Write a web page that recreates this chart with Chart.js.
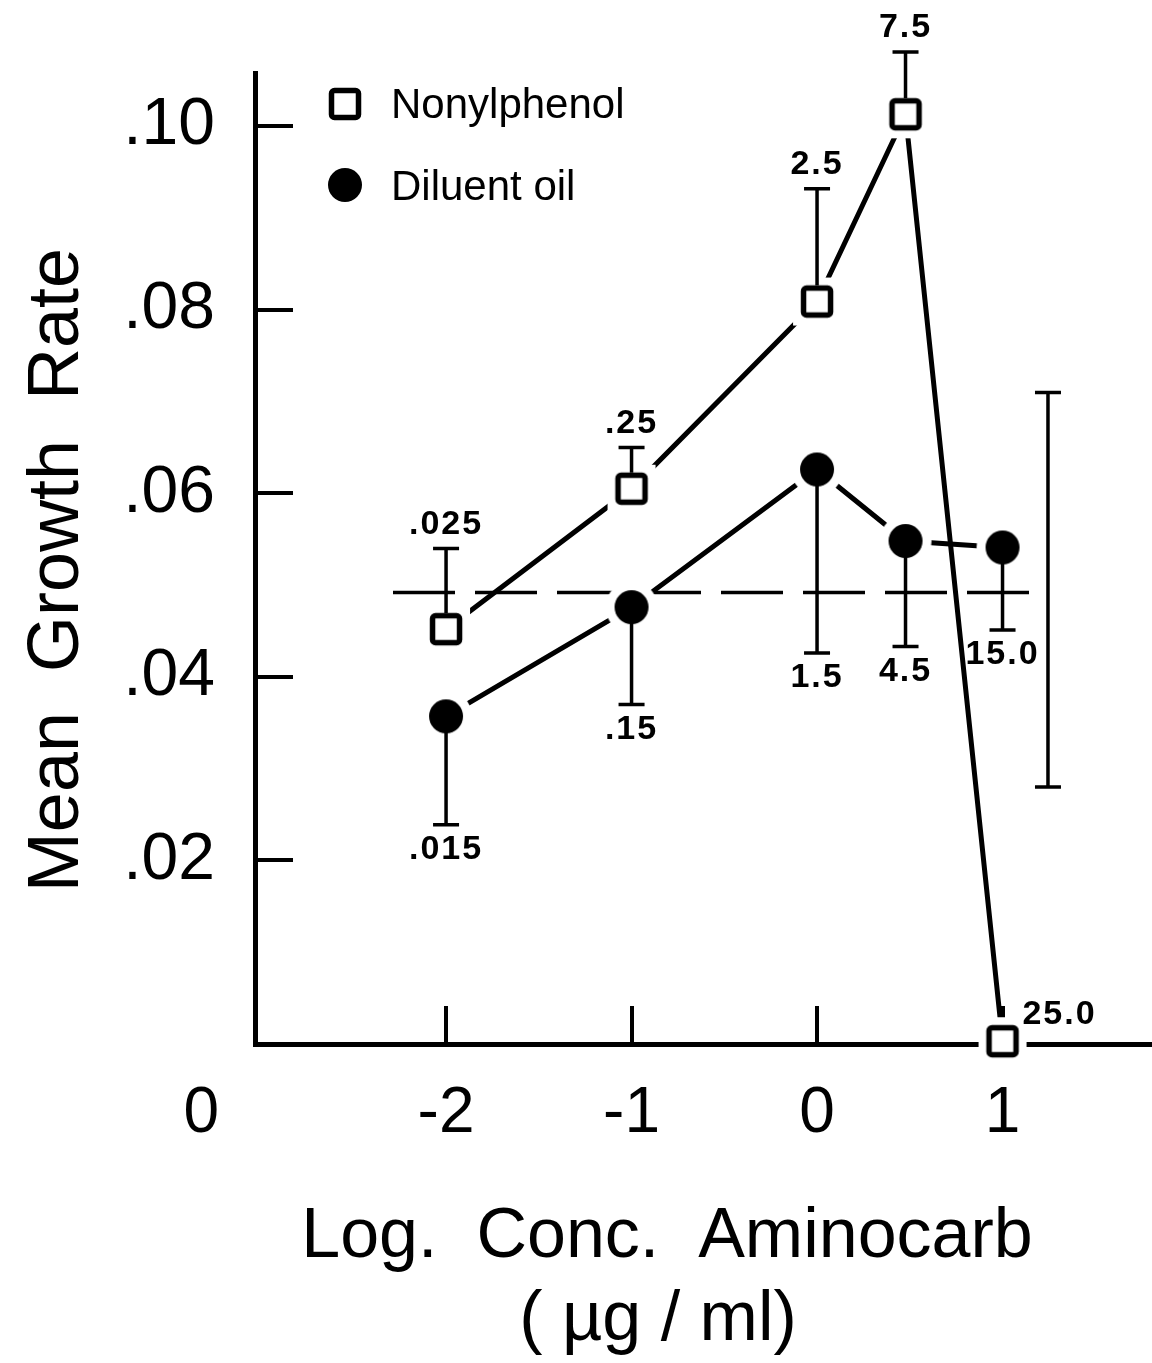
<!DOCTYPE html>
<html>
<head>
<meta charset="utf-8">
<script src="https://cdn.jsdelivr.net/npm/chart.js@4.4.0/dist/chart.umd.min.js"></script>
<style>
  html, body { margin: 0; padding: 0; background: #fff; }
  canvas { display: block; }
</style>
</head>
<body>
<canvas id="growthChart" width="1152" height="1363"></canvas>
<script>
// log10 of aminocarb concentration (ug/ml): 0.01, 0.1, 1, 3, 10
const logConc = [-2, -1, 0, 0.477, 1];

// aminocarb in nonylphenol: mean growth rate, top of error bar, nonylphenol conc.
const nonylMean = [0.0452, 0.0605, 0.0809, 0.1013, 0.0003];
const nonylUpper = [0.0540, 0.0650, 0.0932, 0.1081, null];
const nonylConc = ['.025', '.25', '2.5', '7.5', '25.0'];

// aminocarb in diluent oil: mean growth rate, bottom of error bar, oil conc.
const oilMean = [0.0357, 0.0476, 0.0626, 0.0548, 0.0541];
const oilLower = [0.0239, 0.0370, 0.0426, 0.0433, 0.0451];
const oilConc = ['.015', '.15', '1.5', '4.5', '15.0'];

// untreated control, dashed across the plot with its range bar on the right
const controlMean = 0.0492;
const controlRange = [0.0280, 0.0710];
const controlSpan = [-2.286, 1.245];

// first x tick is the "0" (control) mark that sits left of the y axis
const xTicks = [-3.32, -2, -1, 0, 1];
const yTicks = [0.02, 0.04, 0.06, 0.08, 0.10];
const xMin = -3.03, xMax = 1.795;
const yMin = 0, yMax = 0.1058;

Chart.defaults.color = '#000';
Chart.defaults.font.family = '"Liberation Sans", Arial, sans-serif';

// markers carry a white halo so the joining lines stop short of them
function squareMarker() {
  const c = document.createElement('canvas');
  c.width = 52; c.height = 52;
  const g = c.getContext('2d');
  g.fillStyle = '#fff';
  g.fillRect(2, 2, 48, 48);
  g.lineWidth = 5.5;
  g.strokeStyle = '#000';
  g.beginPath();
  g.roundRect(12.5, 12.5, 27, 27, 3);
  g.fill();
  g.stroke();
  return c;
}

function dotMarker() {
  const c = document.createElement('canvas');
  c.width = 56; c.height = 56;
  const g = c.getContext('2d');
  g.fillStyle = '#fff';
  g.beginPath(); g.arc(28, 28, 26, 0, Math.PI * 2); g.fill();
  g.fillStyle = '#000';
  g.beginPath(); g.arc(28, 28, 17, 0, Math.PI * 2); g.fill();
  return c;
}

const squareImg = squareMarker();
const dotImg = dotMarker();

let overlay = {
  id: 'overlay',
  afterDatasetsDraw(chart) {
    const {ctx} = chart;
    const x = chart.scales.x, y = chart.scales.y;
    ctx.save();
    ctx.strokeStyle = '#000';
    ctx.fillStyle = '#000';
    ctx.lineWidth = 3.5;
    ctx.lineCap = 'butt';
    let bar = function(px, from, to, bothCaps) {
      ctx.beginPath();
      ctx.moveTo(px, from); ctx.lineTo(px, to);
      ctx.moveTo(px - 13, to); ctx.lineTo(px + 13, to);
      if (bothCaps) { ctx.moveTo(px - 13, from); ctx.lineTo(px + 13, from); }
      ctx.stroke();
    };

    ctx.font = 'bold 34px "Liberation Sans"';
    ctx.letterSpacing = '2px';
    ctx.textAlign = 'center';
    ctx.textBaseline = 'middle';

    logConc.forEach((v, i) => {
      const px = x.getPixelForValue(v);
      // nonylphenol: bar goes up from the square
      const py = y.getPixelForValue(nonylMean[i]);
      if (nonylUpper[i] !== null) {
        const top = y.getPixelForValue(nonylUpper[i]);
        bar(px, py - 16, top, false);
        ctx.fillText(nonylConc[i], px, top - 24);
      } else {
        ctx.fillText(nonylConc[i], px + 57, py - 27);
      }
      // diluent oil: bar goes down from the dot
      const oy = y.getPixelForValue(oilMean[i]);
      const bottom = y.getPixelForValue(oilLower[i]);
      bar(px, oy, bottom, false);
      ctx.fillText(oilConc[i], px, bottom + 25);
    });

    // control range
    const cx = x.getPixelForValue(controlSpan[1]);
    bar(cx, y.getPixelForValue(controlRange[1]), y.getPixelForValue(controlRange[0]), true);
    ctx.restore();
  },
  afterDraw(chart) {
    const {ctx} = chart;
    ctx.save();
    ctx.fillStyle = '#000';
    ctx.letterSpacing = '0px';

    // legend
    const sets = chart.data.datasets;
    ctx.drawImage(sets[0].pointStyle, 345 - sets[0].pointStyle.width / 2, 104 - sets[0].pointStyle.height / 2);
    ctx.drawImage(sets[1].pointStyle, 345 - sets[1].pointStyle.width / 2, 185 - sets[1].pointStyle.height / 2);
    ctx.font = '42px "Liberation Sans"';
    ctx.textAlign = 'left';
    ctx.textBaseline = 'alphabetic';
    ctx.fillText(sets[0].label, 391, 118);
    ctx.fillText(sets[1].label, 391, 200);

    // axis titles
    ctx.textAlign = 'center';
    ctx.font = '70px "Liberation Sans"';
    ctx.fillText('Log.  Conc.  Aminocarb', 667, 1257);
    ctx.fillText('( µg / ml)', 658, 1340);

    ctx.font = '72px "Liberation Sans"';
    ctx.translate(78, 570);
    ctx.rotate(-Math.PI / 2);
    ctx.fillText('Mean  Growth  Rate', 0, 0);
    ctx.restore();
  }
};

const ctx = document.getElementById('growthChart');

let config = {
  type: 'line',
  data: {
    datasets: [
      {
        label: 'Nonylphenol',
        data: logConc.map((v, i) => ({x: v, y: nonylMean[i]})),
        borderColor: '#000',
        borderWidth: 5,
        pointStyle: squareImg,
        pointRadius: 20,
        clip: false,
        order: 1
      },
      {
        label: 'Diluent oil',
        data: logConc.map((v, i) => ({x: v, y: oilMean[i]})),
        borderColor: '#000',
        borderWidth: 5,
        pointStyle: dotImg,
        pointRadius: 20,
        clip: false,
        order: 0
      },
      {
        label: 'Control',
        data: controlSpan.map(v => ({x: v, y: controlMean})),
        borderColor: '#000',
        borderWidth: 3.5,
        borderDash: [62, 20],
        pointRadius: 0,
        order: 5
      }
    ]
  },
  options: {
    responsive: false,
    animation: false,
    events: [],
    layout: { autoPadding: false, padding: { top: 73, right: 2, left: 0, bottom: 0 } },
    plugins: {
      legend: { display: false },
      tooltip: { enabled: false }
    },
    scales: {
      x: {
        type: 'linear',
        min: xMin,
        max: xMax,
        afterBuildTicks: s => { s.ticks = xTicks.map(value => ({value})); },
        afterFit: s => { s.height = 319; s.paddingLeft = 0; s.paddingRight = 0; },
        border: { display: true, color: '#000', width: 5 },
        grid: {
          drawOnChartArea: false,
          drawTicks: true,
          tickLength: -38,
          lineWidth: 4,
          color: c => (c.tick && c.tick.value < xMin) ? 'rgba(0,0,0,0)' : '#000'
        },
        ticks: {
          autoSkip: false,
          maxRotation: 0,
          padding: 70,
          font: { size: 64 },
          callback: v => v < xMin ? '0' : String(v)
        }
      },
      y: {
        min: yMin,
        max: yMax,
        afterBuildTicks: s => { s.ticks = yTicks.map(value => ({value})); },
        afterFit: s => { s.width = 255; s.paddingTop = 0; s.paddingBottom = 0; },
        border: { display: true, color: '#000', width: 5 },
        grid: {
          drawOnChartArea: false,
          drawTicks: true,
          tickLength: -38,
          lineWidth: 4,
          color: '#000'
        },
        ticks: {
          padding: 78,
          font: { size: 66 },
          callback: v => v.toFixed(2).replace(/^0/, '')
        }
      }
    }
  },
  plugins: [overlay]
};

let growth = new Chart(ctx, config);
</script>
</body>
</html>
